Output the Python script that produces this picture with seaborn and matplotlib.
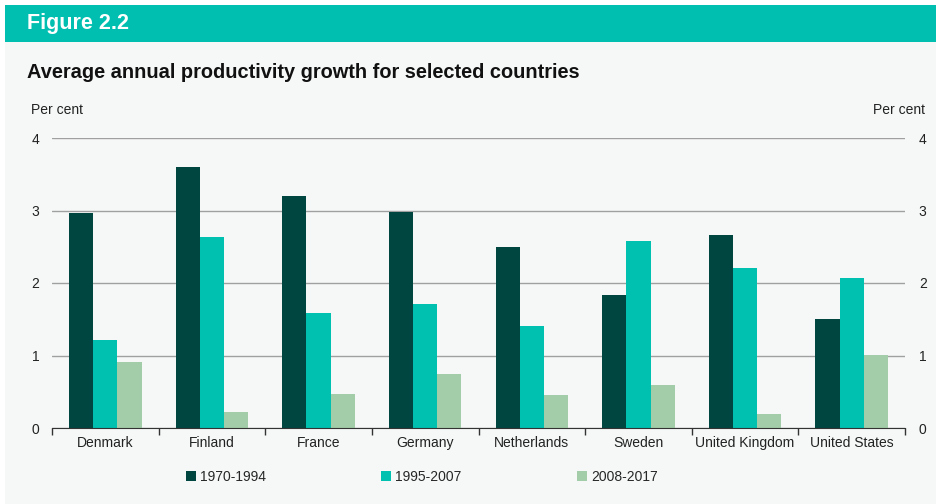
import numpy as np
import pandas as pd
import seaborn as sns
import matplotlib.pyplot as plt
from matplotlib.patches import Rectangle

# Data
countries = ["Denmark", "Finland", "France", "Germany", "Netherlands",
             "Sweden", "United Kingdom", "United States"]
periods = ["1970-1994", "1995-2007", "2008-2017"]
growth_1970_1994 = [2.97, 3.60, 3.20, 2.98, 2.50, 1.83, 2.66, 1.51]
growth_1995_2007 = [1.22, 2.63, 1.59, 1.71, 1.41, 2.58, 2.21, 2.07]
growth_2008_2017 = [0.91, 0.22, 0.47, 0.74, 0.46, 0.59, 0.19, 1.01]
y_ticks = [0, 1, 2, 3, 4]

colors = ["#004640", "#00c1b0", "#a3cda8"]
bg = "#f6f8f8"

df = pd.DataFrame({
    "country": countries * 3,
    "period": [periods[0]] * 8 + [periods[1]] * 8 + [periods[2]] * 8,
    "value": growth_1970_1994 + growth_1995_2007 + growth_2008_2017,
})

sns.set_style("white")
plt.rcParams["font.family"] = ["Liberation Sans", "DejaVu Sans"]

fig = plt.figure(figsize=(9.37, 5.04), dpi=100, facecolor="white")

# Background panel and header bar
fig.patches.append(Rectangle((5 / 937, 0), 1, 1 - 42 / 504, transform=fig.transFigure,
                             facecolor=bg, edgecolor="none", zorder=-2))
fig.patches.append(Rectangle((5 / 937, 1 - 42 / 504), 1, 37 / 504, transform=fig.transFigure,
                             facecolor="#00bfb0", edgecolor="none", zorder=-1))
fig.text(27 / 937, 1 - 23 / 504, "Figure 2.2", color="white", fontsize=15.5,
         fontweight="bold", va="center", ha="left")
fig.text(27 / 937, 1 - 73 / 504, "Average annual productivity growth for selected countries",
         color="#111111", fontsize=14.4, fontweight="bold", va="center", ha="left")
fig.text(31 / 937, 1 - 110 / 504, "Per cent", fontsize=10, va="center", ha="left", color="#222222")
fig.text(925 / 937, 1 - 110 / 504, "Per cent", fontsize=10, va="center", ha="right", color="#222222")

ax = fig.add_axes([52 / 937, 1 - 428 / 504, 853 / 937, 290 / 504])
ax.set_facecolor(bg)
sns.barplot(data=df, x="country", y="value", hue="period", palette=colors,
            width=0.68, saturation=1, linewidth=0, ax=ax, legend=False, zorder=3)

ax.set_ylim(0, 4)
ax.set_xlim(-0.5, len(countries) - 0.5)
ax.set_yticks(y_ticks)
ax.grid(axis="y", color="#a0a0a0", linewidth=1, zorder=0)
ax.set_axisbelow(True)
for s in ["top", "right", "left"]:
    ax.spines[s].set_visible(False)
ax.spines["bottom"].set_color("#333333")
ax.spines["bottom"].set_zorder(4)
ax.set_xlabel("")
ax.set_ylabel("")
ax.tick_params(axis="y", length=0, labelsize=10, pad=9, labelcolor="#222222")
ax.tick_params(axis="x", which="major", bottom=False, length=0, labelsize=10, pad=6,
               labelcolor="#222222")
ax.set_xticks(np.arange(-0.5, len(countries), 1), minor=True)
ax.tick_params(axis="x", which="minor", bottom=True, length=5, width=1, color="#333333",
               direction="out")

ax2 = ax.twinx()
ax2.set_ylim(0, 4)
ax2.set_yticks(y_ticks)
for s in ax2.spines.values():
    s.set_visible(False)
ax2.tick_params(axis="y", length=0, labelsize=10, pad=10, labelcolor="#222222")

handles = [Rectangle((0, 0), 1, 1, facecolor=c, edgecolor="none") for c in colors]
fig.legend(handles, periods, loc="center", bbox_to_anchor=(422 / 937, 1 - 477 / 504),
           ncol=3, frameon=False, fontsize=10, handlelength=0.7, handleheight=0.7,
           handletextpad=0.3, columnspacing=8.3)

fig.savefig("out.png", dpi=100, facecolor=fig.get_facecolor())
